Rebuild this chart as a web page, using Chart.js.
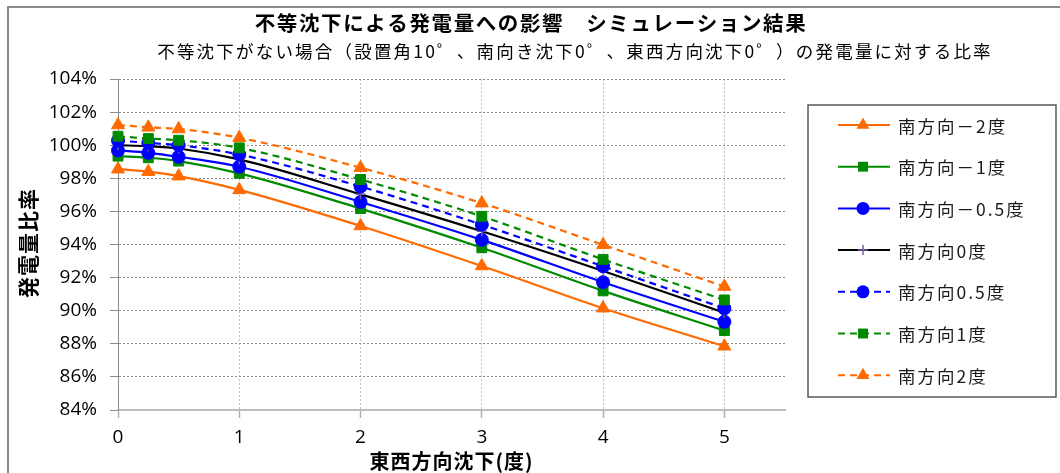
<!DOCTYPE html>
<html>
<head>
<meta charset="utf-8">
<script src="https://cdn.jsdelivr.net/npm/chart.js"></script>
<style>
  html, body { margin: 0; padding: 0; background: #fff; }
  canvas { display: block; }
</style>
</head>
<body>
<canvas id="c" width="1060" height="473"></canvas>
<script>
// East-west settlement (degrees) at which each case was simulated
const settlementEW = [0, 0.25, 0.5, 1, 2, 3, 4, 5];

// Generation ratio (%) for each south-direction settlement case
const southMinus2 = [98.55, 98.40, 98.13, 97.30, 95.12, 92.70, 90.15, 87.85];
const southMinus1 = [99.34, 99.24, 99.04, 98.30, 96.17, 93.80, 91.20, 88.80];
const southMinus05 = [99.68, 99.54, 99.30, 98.70, 96.57, 94.28, 91.72, 89.33];
const south0 = [100.00, 99.94, 99.80, 99.14, 97.03, 94.80, 92.40, 89.88];
const south05 = [100.28, 100.14, 100.00, 99.44, 97.50, 95.20, 92.68, 90.14];
const south1 = [100.54, 100.40, 100.30, 99.84, 97.93, 95.70, 93.10, 90.65];
const south2 = [101.22, 101.08, 100.98, 100.45, 98.64, 96.50, 93.98, 91.46];

const seriesNames = ['南方向－2度', '南方向－1度', '南方向－0.5度', '南方向0度', '南方向0.5度', '南方向1度', '南方向2度'];
const seriesValues = [southMinus2, southMinus1, southMinus05, south0, south05, south1, south2];

const xTicks = [0, 1, 2, 3, 4, 5];
const yTicks = [84, 86, 88, 90, 92, 94, 96, 98, 100, 102, 104];

const titleText = '不等沈下による発電量への影響　シミュレーション結果';
const subtitleText = '不等沈下がない場合（設置角10゜、南向き沈下0゜、東西方向沈下0゜）の発電量に対する比率';
const xTitle = '東西方向沈下(度)';
const yTitle = '発電量比率';

const ORANGE = '#ff6a00', GREEN = '#008a00', BLUE = '#0000ff', BLACK = '#000000', PURPLE = '#7a5fa0';

const styles = [
  { color: ORANGE, marker: 'triangle', radius: 7.5, dash: [] },
  { color: GREEN, marker: 'rect', radius: 7, dash: [] },
  { color: BLUE, marker: 'circle', radius: 6.5, dash: [] },
  { color: BLACK, marker: 'cross', radius: 5, dash: [], markerColor: PURPLE },
  { color: BLUE, marker: 'circle', radius: 6.5, dash: [7, 5] },
  { color: GREEN, marker: 'rect', radius: 7, dash: [7, 5] },
  { color: ORANGE, marker: 'triangle', radius: 7.5, dash: [7, 5] }
];

const datasets = seriesValues.map((vals, i) => {
  const s = styles[i];
  const mc = s.markerColor || s.color;
  return {
    label: seriesNames[i],
    data: vals.map((v, j) => ({ x: settlementEW[j], y: v })),
    borderColor: s.color,
    borderWidth: 2.2,
    borderDash: s.dash,
    pointStyle: s.marker,
    pointRadius: s.radius,
    pointHoverRadius: s.radius,
    pointBackgroundColor: mc,
    pointBorderColor: mc,
    pointBorderWidth: s.marker === 'cross' ? 1.5 : 1,
    cubicInterpolationMode: 'monotone',
    fill: false,
    clip: false,
    order: seriesValues.length - i
  };
});

function drawMarker(ctx, style, color, r, x, y) {
  ctx.save();
  ctx.fillStyle = color;
  ctx.strokeStyle = color;
  ctx.setLineDash([]);
  ctx.beginPath();
  if (style === 'triangle') {
    for (let k = 0; k < 3; k++) {
      const a = k * 2 * Math.PI / 3;
      const px = x + Math.sin(a) * r, py = y - Math.cos(a) * r;
      k ? ctx.lineTo(px, py) : ctx.moveTo(px, py);
    }
    ctx.closePath(); ctx.fill();
  } else if (style === 'rect') {
    const h = Math.SQRT1_2 * r;
    ctx.rect(x - h, y - h, 2 * h, 2 * h); ctx.fill();
  } else if (style === 'circle') {
    ctx.arc(x, y, r, 0, Math.PI * 2); ctx.fill();
  } else if (style === 'cross') {
    ctx.lineWidth = 1.5;
    ctx.moveTo(x - r, y); ctx.lineTo(x + r, y);
    ctx.moveTo(x, y - r); ctx.lineTo(x, y + r);
    ctx.stroke();
  }
  ctx.restore();
}

const decor = {
  id: 'decor',
  beforeDraw(chart) {
    const ctx = chart.ctx;
    ctx.save();
    ctx.fillStyle = '#ffffff';
    ctx.fillRect(0, 0, chart.width, chart.height);
    // outer frame
    ctx.strokeStyle = '#8a8a8a';
    ctx.lineWidth = 2;
    ctx.beginPath();
    ctx.moveTo(8, chart.height + 2);
    ctx.lineTo(8, 7);
    ctx.lineTo(chart.width + 2, 7);
    ctx.stroke();
    ctx.restore();
  },
  afterDraw(chart) {
    const ctx = chart.ctx;
    const area = chart.chartArea;
    ctx.save();
    ctx.fillStyle = '#000000';
    ctx.textAlign = 'center';
    ctx.textBaseline = 'middle';

    ctx.letterSpacing = '1.6px';
    ctx.font = 'bold 20.5px "Noto Sans CJK JP"';
    ctx.fillText(titleText, 531, 23);

    ctx.letterSpacing = '2.2px';
    ctx.font = '17.5px "Noto Sans CJK JP"';
    ctx.fillText(subtitleText, 575, 51);

    ctx.letterSpacing = '1px';
    ctx.font = 'bold 20px "Noto Sans CJK JP"';
    ctx.fillText(xTitle, (area.left + area.right) / 2, 461);

    ctx.save();
    ctx.translate(28, 243);
    ctx.rotate(-Math.PI / 2);
    ctx.letterSpacing = '1px';
    ctx.font = 'bold 21px "Noto Sans CJK JP"';
    ctx.fillText(yTitle, 0, 0);
    ctx.restore();

    // legend
    const bx = 808, by = 105, bw = 248, bh = 292;
    ctx.strokeStyle = '#5a5a5a';
    ctx.lineWidth = 1.5;
    ctx.strokeRect(bx, by, bw, bh);
    ctx.textAlign = 'left';
    ctx.font = '17.5px "Noto Sans CJK JP"';
    ctx.letterSpacing = '2px';
    seriesNames.forEach((name, i) => {
      const s = styles[i];
      const y = 125 + i * 41.7;
      ctx.save();
      ctx.strokeStyle = s.color;
      ctx.lineWidth = 2;
      ctx.setLineDash(s.dash);
      ctx.beginPath();
      ctx.moveTo(838, y);
      ctx.lineTo(890, y);
      ctx.stroke();
      ctx.restore();
      drawMarker(ctx, s.marker, s.markerColor || s.color, s.radius, 863, y);
      ctx.fillStyle = '#1a1a1a';
      ctx.fillText(name, 898, y + 1);
    });
    ctx.restore();
  }
};

new Chart(document.getElementById('c'), {
  type: 'line',
  data: { datasets },
  options: {
    responsive: false,
    animation: false,
    devicePixelRatio: 1,
    events: [],
    layout: { autoPadding: false, padding: { left: 0, top: 79, right: 275, bottom: 0 } },
    plugins: { legend: { display: false }, title: { display: false }, tooltip: { enabled: false } },
    scales: {
      x: {
        type: 'linear',
        min: 0,
        max: 5.5,
        afterFit(scale) { scale.height = 63; },
        afterBuildTicks(scale) { scale.ticks = xTicks.map(v => ({ value: v })); },
        ticks: {
          font: { family: 'Open Sans', size: 19 },
          color: '#000',
          padding: 8,
          maxRotation: 0
        },
        grid: {
          color: '#c4c4c4',
          lineWidth: 1,
          tickLength: 8,
          tickColor: '#b0b0b0',
          tickWidth: 1.5
        },
        border: { color: '#bdbdbd', width: 2, dash: [2, 2] }
      },
      y: {
        min: 84,
        max: 104,
        afterFit(scale) { scale.width = 118; },
        afterBuildTicks(scale) { scale.ticks = yTicks.map(v => ({ value: v })); },
        ticks: {
          font: { family: 'Open Sans', size: 19 },
          color: '#000',
          padding: 13,
          callback: v => v + '%'
        },
        grid: {
          color: '#8c8c8c',
          lineWidth: 1,
          tickLength: 8,
          tickColor: '#8c8c8c',
          tickWidth: 1
        },
        border: { color: '#8a8a8a', width: 1, dash: [2, 2] }
      }
    }
  },
  plugins: [decor]
});
</script>
</body>
</html>
